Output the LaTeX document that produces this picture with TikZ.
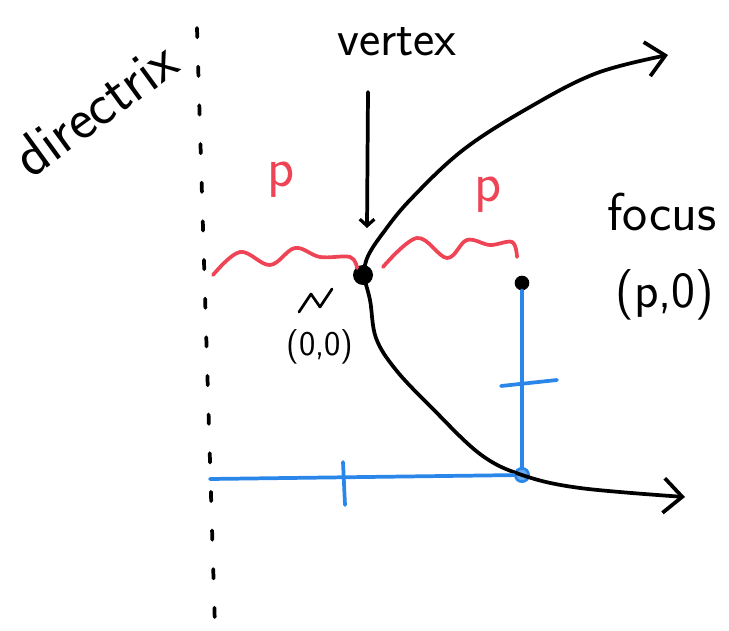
\documentclass[tikz,border=0pt]{standalone}
\usepackage{tikz}
\usetikzlibrary{arrows.meta,positioning,calc}
\definecolor{penred}{HTML}{EE4455}
\definecolor{penblue}{HTML}{2A86E8}
\tikzset{
  hand/.style={font=\sffamily\fontsize{38}{42}\selectfont, inner sep=0pt},
  handsm/.style={font=\sffamily\fontsize{26}{30}\selectfont, inner sep=0pt},
  pen/.style={line width=2.8pt, line cap=round, line join=round},
  bigtip/.style={-{Straight Barb[length=14pt,width=26pt,line width=2.8pt]}},
  blackdot/.style={circle, fill=black, inner sep=0pt, minimum size=#1},
}

\begin{document}
\begin{tikzpicture}[x=0.75pt,y=-0.75pt]
    \useasboundingbox (0,0) rectangle (729,631);
    % directrix
    \draw[pen, dash pattern=on 7pt off 22pt] (197,28) -- (215,628);
    \node[hand, rotate=36, font=\sffamily\fontsize{44}{48}\selectfont] (dlbl) at (95,108) {directrix};
    % points
    \node[blackdot=15pt] (vtx) at (363,275) {};
    \node[blackdot=11pt] (foc) at (522,283) {};
    \node[circle, draw=penblue, fill=penblue!70, line width=2pt, inner sep=0pt, minimum size=10pt] (pt) at (522,475) {};
    % labels
    \node[hand] (vlbl) at (397,42) {vertex};
    \node[hand, font=\sffamily\fontsize{40}{44}\selectfont] (flbl) at (662,212) {focus};
    \node[hand, font=\sffamily\fontsize{38}{42}\selectfont] (fcoord) at (665,295) {(p,0)};
    \node[hand, text=penred, font=\sffamily\fontsize{42}{46}\selectfont] (pleft) at (281,180) {p};
    \node[hand, text=penred, font=\sffamily\fontsize{42}{46}\selectfont] (pright) at (488,195) {p};
    \node[handsm] (origin) at (320,347) {(0,0)};
    \draw[line width=2pt, line cap=round, line join=round] (299,312) -- (311,294) -- (320,307) -- (332,289);
    % parabola
    \draw[pen, bigtip] plot[smooth, tension=0.6] coordinates {(vtx.center) (368,256) (383,233) (410,200) (463,150) (530,107) (597,73) (668,55)};
    \draw[pen, bigtip] plot[smooth, tension=0.6] coordinates {(vtx.center) (370,300) (376,338) (396,370) (432,408) (480,454) (pt.center) (580,488) (685,497)};
    % vertex arrow
    \coordinate (atop) at (368,92);
    \coordinate (abot) at (367,228);
    \draw[pen, -{Straight Barb[length=5pt,width=11pt,line width=2.4pt]}] (atop) -- (abot);
    % distances p
    \draw[pen, penred] plot[smooth, tension=0.6] coordinates {(213,275) (240,252) (270,265) (295,248) (320,257) (350,257) (357,268)};
    \draw[pen, penred] plot[smooth, tension=0.6] coordinates {(383,267) (417,238) (447,258) (467,240) (490,245) (512,242) (517,257)};
    % equal distances
    \coordinate (dleft) at (210,479);
    \draw[pen, penblue] (dleft) -- (pt);
    \draw[pen, penblue] (foc) -- (pt);
    \draw[pen, penblue] (343,462) -- (345,505);
    \draw[pen, penblue] (501,386) -- (557,380);
  \end{tikzpicture}
\end{document}
